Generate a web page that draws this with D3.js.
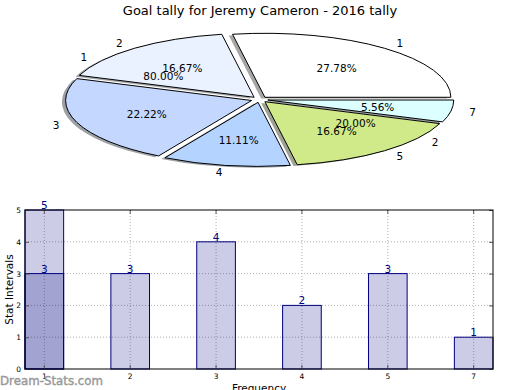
<!DOCTYPE html>
<html><head><meta charset="utf-8">
<script src="https://cdn.jsdelivr.net/npm/d3@7"></script>
<style>body{margin:0;background:#fff} svg{display:block;font-family:"DejaVu Sans",sans-serif}</style>
</head><body><svg id="c" width="520" height="390"></svg>
<script>
const title = "Goal tally for Jeremy Cameron - 2016 tally";
const categories = ["1","2","3","4","5","7"];
const counts = [5,3,4,2,3,1];
const sliceColors = ["#ffffff","#eaf2ff","#c4d8ff","#b4d4ff","#d0ea8a","#dcffff"];
const overlayCategories = ["1"];
const overlayCounts = [3];
const secondPieLabels = ["1","2"];
const secondPieValues = [80,20];
const yTicks = [0,1,2,3,4,5];
const xLabel = "Frequency", yLabel = "Stat Intervals";
const watermark = "Dream-Stats.com";

const svg = d3.select("#c");
svg.append("rect").attr("width",520).attr("height",390).attr("fill","#fff");

// title
svg.append("text").attr("x",260).attr("y",14.5).attr("text-anchor","middle")
  .attr("font-size",13).attr("fill","#000").text(title);

// ---------- pie ----------
const cx=259.5, cy=99.5, rx=186, ry=64, explode=0.045;
const pie = d3.pie().sort(null).value(d=>d).startAngle(Math.PI/2).endAngle(Math.PI/2-2*Math.PI);
const arcs = pie(counts);
const arcGen = d3.arc().innerRadius(0).outerRadius(1);
const total = d3.sum(counts);
const pfmt = d3.format(".2f");
const pg = svg.append("g");
function origin(a){
  const m=(a.startAngle+a.endAngle)/2;
  return {m, ox: cx + explode*rx*Math.sin(m), oy: cy - explode*ry*Math.cos(m)};
}
// shadows
arcs.forEach((a,i)=>{
  const {ox,oy}=origin(a);
  const c=d3.rgb(sliceColors[i]);
  const sc=d3.rgb(c.r*0.3,c.g*0.3,c.b*0.3);
  pg.append("path").attr("d",arcGen(a))
    .attr("transform",`translate(${ox-0.02*rx},${oy+0.02*ry}) scale(${rx},${ry})`)
    .attr("fill",sc).attr("fill-opacity",0.5);
});
// wedges
arcs.forEach((a,i)=>{
  const {ox,oy}=origin(a);
  pg.append("path").attr("d",arcGen(a))
    .attr("transform",`translate(${ox},${oy}) scale(${rx},${ry})`)
    .attr("fill",sliceColors[i]).attr("stroke","#000").attr("stroke-width",1)
    .attr("vector-effect","non-scaling-stroke");
});
// labels
arcs.forEach((a,i)=>{
  const {m,ox,oy}=origin(a);
  const s=Math.sin(m), c=Math.cos(m);
  pg.append("text").attr("x",ox+1.1*rx*s).attr("y",oy-1.1*ry*c)
    .attr("text-anchor", s>0?"start":"end").attr("dominant-baseline","central")
    .attr("font-size",10.5).text(categories[i]);
  pg.append("text").attr("x",ox+0.6*rx*s).attr("y",oy-0.6*ry*c)
    .attr("text-anchor","middle").attr("dominant-baseline","central")
    .attr("font-size",10.5).text(pfmt(a.value/total*100)+"%");
});
// second pie (labels only)
const arcs2 = pie(secondPieValues);
const total2 = d3.sum(secondPieValues);
const lblRx=213, lblRy=72, pctRx=198, pctRy=66;
arcs2.forEach((a,i)=>{
  const m=(a.startAngle+a.endAngle)/2, s=Math.sin(m), c=Math.cos(m);
  pg.append("text").attr("x",cx+lblRx*s).attr("y",cy-lblRy*c)
    .attr("text-anchor", s>0?"start":"end").attr("dominant-baseline","central")
    .attr("font-size",10.5).text(secondPieLabels[i]);
  pg.append("text").attr("x",cx+0.6*pctRx*s).attr("y",cy-0.6*pctRy*c)
    .attr("text-anchor","middle").attr("dominant-baseline","central")
    .attr("font-size",10.5).text(pfmt(a.value/total2*100)+"%");
});

// ---------- bars ----------
const L=25,R=493,T=210,B=369;
const x = d3.scaleBand().domain(categories).range([L,R]).paddingInner(0.55).paddingOuter(0);
const y = d3.scaleLinear().domain([0,5]).range([B,T]);
const bg = svg.append("g");
const bw=x.bandwidth();
// grid
bg.selectAll(".vg").data(categories).join("line")
  .attr("x1",d=>x(d)+bw/2).attr("x2",d=>x(d)+bw/2).attr("y1",T).attr("y2",B)
  .attr("stroke","#b0b0b0").attr("stroke-dasharray","1,2").attr("stroke-width",1);
bg.selectAll(".hg").data(yTicks.slice(1,-1)).join("line")
  .attr("x1",L).attr("x2",R).attr("y1",d=>y(d)).attr("y2",d=>y(d))
  .attr("stroke","#b0b0b0").attr("stroke-dasharray","1,2").attr("stroke-width",1);
// bars
bg.selectAll(".b").data(categories).join("rect")
  .attr("x",d=>x(d)).attr("width",bw)
  .attr("y",(d,i)=>y(counts[i])).attr("height",(d,i)=>B-y(counts[i]))
  .attr("fill","#000080").attr("fill-opacity",0.2).attr("stroke","#000080").attr("stroke-width",1);
bg.selectAll(".o").data(overlayCategories).join("rect")
  .attr("x",d=>x(d)).attr("width",bw)
  .attr("y",(d,i)=>y(overlayCounts[i])).attr("height",(d,i)=>B-y(overlayCounts[i]))
  .attr("fill","#000080").attr("fill-opacity",0.2).attr("stroke","#000080").attr("stroke-width",1);
// value labels
bg.selectAll(".vl").data(categories).join("text")
  .attr("x",d=>x(d)+bw/2).attr("y",(d,i)=>y(counts[i])-1)
  .attr("text-anchor","middle").attr("font-size",10.5).attr("fill","#000080")
  .text((d,i)=>counts[i]);
bg.selectAll(".ol").data(overlayCategories).join("text")
  .attr("x",d=>x(d)+bw/2).attr("y",(d,i)=>y(overlayCounts[i])-1)
  .attr("text-anchor","middle").attr("font-size",10.5).attr("fill","#000080")
  .text((d,i)=>overlayCounts[i]);
// axes
const ya = bg.append("g").attr("transform",`translate(${L},0)`)
  .call(d3.axisLeft(y).tickValues(yTicks).tickFormat(d3.format("d")).tickSizeInner(-4).tickSizeOuter(0).tickPadding(4));
const yr = bg.append("g").attr("transform",`translate(${R},0)`)
  .call(d3.axisRight(y).tickValues(yTicks).tickSizeInner(-4).tickSizeOuter(0).tickFormat(""));
const xa = bg.append("g").attr("transform",`translate(0,${B})`)
  .call(d3.axisBottom(x).tickSizeInner(-4).tickSizeOuter(0).tickPadding(5));
const xt = bg.append("g").attr("transform",`translate(0,${T})`)
  .call(d3.axisTop(x).tickSizeInner(-4).tickSizeOuter(0).tickFormat(""));
[ya,yr,xa,xt].forEach(a=>{
  a.select(".domain").remove();
  a.selectAll(".tick line").attr("stroke","#555");
  a.selectAll("text").attr("font-size",7.5).attr("fill","#000").attr("font-family","DejaVu Sans");
});
bg.append("rect").attr("x",L).attr("y",T).attr("width",R-L).attr("height",B-T)
  .attr("fill","none").attr("stroke","#000").attr("stroke-width",1);
// axis labels
bg.append("text").attr("transform",`translate(9,${(T+B)/2}) rotate(-90)`)
  .attr("text-anchor","middle").attr("dominant-baseline","central")
  .attr("font-size",10.5).text(yLabel);
bg.append("text").attr("x",(L+R)/2).attr("y",392).attr("text-anchor","middle")
  .attr("font-size",10.5).text(xLabel);
// watermark
svg.append("text").attr("x",0).attr("y",385).attr("font-size",11.8)
  .attr("fill","#999").attr("stroke","#999").attr("stroke-width",0.4).text(watermark);
</script></body></html>
